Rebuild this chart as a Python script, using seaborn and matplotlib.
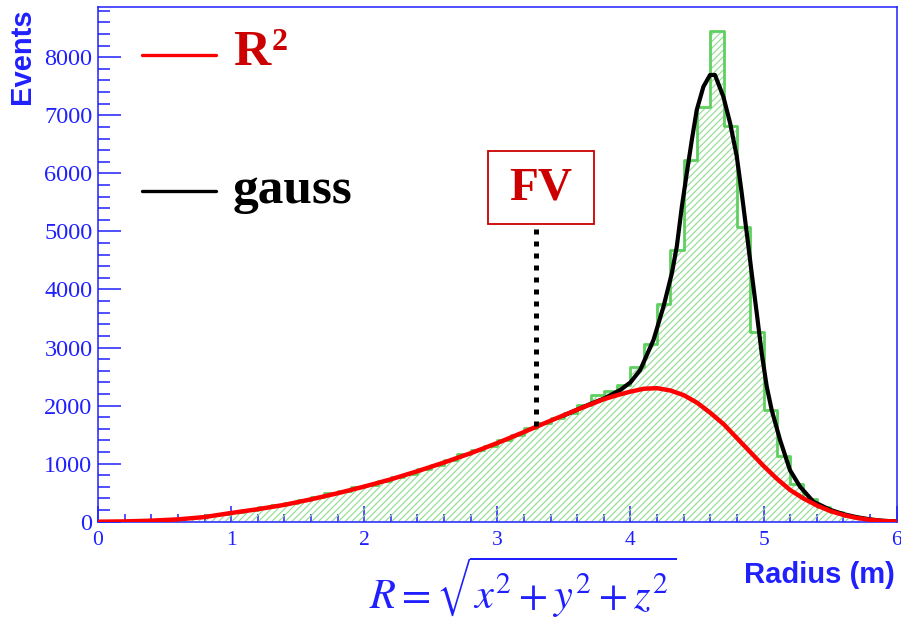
import numpy as np
import matplotlib
matplotlib.use('Agg')
import matplotlib.pyplot as plt
import seaborn as sns
from matplotlib.ticker import MultipleLocator
from matplotlib.patches import Rectangle
from matplotlib.lines import Line2D

# histogram, 60 bins of 0.1 m
bin_edges = [round(0.1 * i, 1) for i in range(61)]
counts = [5, 5, 10, 20, 30, 45, 65, 85, 110, 135,
          170, 200, 250, 280, 330, 370, 420, 490, 530, 600,
          640, 700, 770, 830, 910, 980, 1060, 1170, 1230, 1310,
          1400, 1490, 1620, 1700, 1790, 1875, 2010, 2185, 2250, 2360,
          2660, 3064, 3750, 4680, 6230, 7148, 8455, 6815, 5077, 3270,
          1928, 1136, 654, 396, 258, 160, 100, 60, 30, 15]

# R^2 fit curve
r2_x = [0.0, 0.2, 0.4, 0.6, 0.8, 1.0, 1.2, 1.4, 1.6, 1.8, 2.0, 2.2, 2.4, 2.6, 2.8,
        3.0, 3.2, 3.4, 3.6, 3.8, 3.9, 4.0, 4.1, 4.2, 4.3, 4.4, 4.5, 4.6, 4.7, 4.8,
        4.9, 5.0, 5.1, 5.2, 5.3, 5.4, 5.5, 5.6, 5.7, 5.8, 5.9, 6.0]
r2_y = [0, 5, 18, 40, 80, 150, 215, 290, 385, 490, 605, 730, 870, 1020, 1180,
        1355, 1545, 1740, 1930, 2110, 2180, 2240, 2290, 2300, 2260, 2180, 2050, 1875, 1680, 1440,
        1200, 960, 740, 545, 400, 280, 185, 115, 65, 32, 12, 3]

# R^2 + gauss curve
gauss_x = [3.5, 3.7, 3.8, 3.923, 4.0, 4.073, 4.173, 4.248, 4.311, 4.348, 4.386,
           4.423, 4.461, 4.498, 4.548, 4.598, 4.635, 4.698, 4.749, 4.799, 4.836,
           4.874, 4.911, 4.949, 4.986, 5.024, 5.061, 5.124, 5.198, 5.274, 5.374,
           5.5, 5.6, 5.7, 5.8, 5.9, 6.0]
gauss_y = [1830, 2030, 2120, 2269, 2400, 2613, 3130, 3704, 4279, 4737, 5426,
           6002, 6575, 7092, 7493, 7695, 7695, 7321, 6863, 6288, 5657,
           4968, 4279, 3590, 2901, 2326, 1924, 1407, 890, 603, 345,
           205, 130, 78, 40, 15, 5]

fv_x = 3.29
fv_y = [1650, 5190]

blue = '#2020ff'
red_txt = '#cc0000'
green = '#5fcf5f'
hatch_green = '#8fdc8f'

sns.set_theme(style='white')
plt.rcParams['font.family'] = ['Liberation Serif', 'DejaVu Sans']
plt.rcParams['mathtext.fontset'] = 'stix'
plt.rcParams['hatch.linewidth'] = 0.8

fig = plt.figure(figsize=(9.01, 6.19), dpi=100)
ax = fig.add_axes([0.1088, 0.1572, 0.8864, 0.8315])

centers = [(a + b) / 2 for a, b in zip(bin_edges[:-1], bin_edges[1:])]

# hatched fill
sns.histplot(x=centers, weights=counts, bins=bin_edges, element='step', fill=True,
             color=hatch_green, edgecolor=hatch_green, hatch='/////', linewidth=0,
             ax=ax, zorder=1)
ax.collections[-1].set_facecolor('none')
# outline
sns.histplot(x=centers, weights=counts, bins=bin_edges, element='step', fill=False,
             color=green, linewidth=2.0, ax=ax, zorder=2)

sns.lineplot(x=gauss_x, y=gauss_y, color='black', linewidth=3.0, ax=ax, zorder=3)
sns.lineplot(x=r2_x, y=r2_y, color='#ff0000', linewidth=3.2, ax=ax, zorder=4)

ax.plot([fv_x, fv_x], fv_y, color='black', linewidth=3.6,
        linestyle=(0, (1, 1.4)), dash_capstyle='butt', zorder=5)

ax.set_xlim(0, 6)
ax.set_ylim(0, 8866)
ax.set_xlabel('')
ax.set_ylabel('')

ax.xaxis.set_major_locator(MultipleLocator(1))
ax.xaxis.set_minor_locator(MultipleLocator(0.2))
ax.yaxis.set_major_locator(MultipleLocator(1000))
ax.yaxis.set_minor_locator(MultipleLocator(200))

ax.tick_params(axis='both', which='both', direction='in', color=blue,
               labelcolor=blue, width=1.1, top=False, right=False,
               left=True, bottom=True)
ax.tick_params(axis='y', which='major', length=16.5, labelsize=17.5, pad=4)
ax.tick_params(axis='y', which='minor', length=8.6)
ax.tick_params(axis='x', which='major', length=11.5, labelsize=15.5, pad=7)
ax.tick_params(axis='x', which='minor', length=5.8)

for sp in ax.spines.values():
    sp.set_color(blue)
    sp.set_linewidth(1.1)

# legend (drawn by hand, ROOT style)
def px(x, y):
    return x / 901, 1 - y / 619

for y_line, col in [(55, '#ff0000'), (190.7, 'black')]:
    fig.add_artist(Line2D([142 / 901, 216 / 901], [px(0, y_line)[1]] * 2,
                          transform=fig.transFigure, color=col, linewidth=2.4))
fig.text(*px(233, 65), 'R', color=red_txt, fontsize=37, fontweight='bold',
         family='Liberation Serif', va='baseline', ha='left')
fig.text(*px(272, 50), '2', color=red_txt, fontsize=23, fontweight='bold',
         family='Liberation Serif', va='baseline', ha='left')
fig.text(*px(233, 203.3), 'gauss', color='black', fontsize=37, fontweight='bold',
         family='Liberation Serif', va='baseline', ha='left')

# FV box
fig.add_artist(Rectangle(px(488, 224), 106 / 901, 73 / 619,
                         transform=fig.transFigure, facecolor='white',
                         edgecolor=red_txt, linewidth=1.3, zorder=6))
fig.text(*px(541, 188), 'FV', color=red_txt, fontsize=34,
         fontweight='bold', family='Liberation Serif', ha='center', va='center',
         zorder=7)

# axis titles
fig.text(*px(22.5, 8), 'Events', rotation=90, color=blue,
         fontsize=21, fontweight='bold', family='Liberation Sans',
         ha='center', va='top')
fig.text(*px(895, 575), 'Radius (m)', color=blue,
         fontsize=21, fontweight='bold', family='Liberation Sans',
         ha='right', va='center')
fig.text(*px(523, 587), r'$R=\sqrt{x^2+y^2+z^2}$', color=blue,
         fontsize=30.5, ha='center', va='center')

plt.savefig('out.png', dpi=100)
